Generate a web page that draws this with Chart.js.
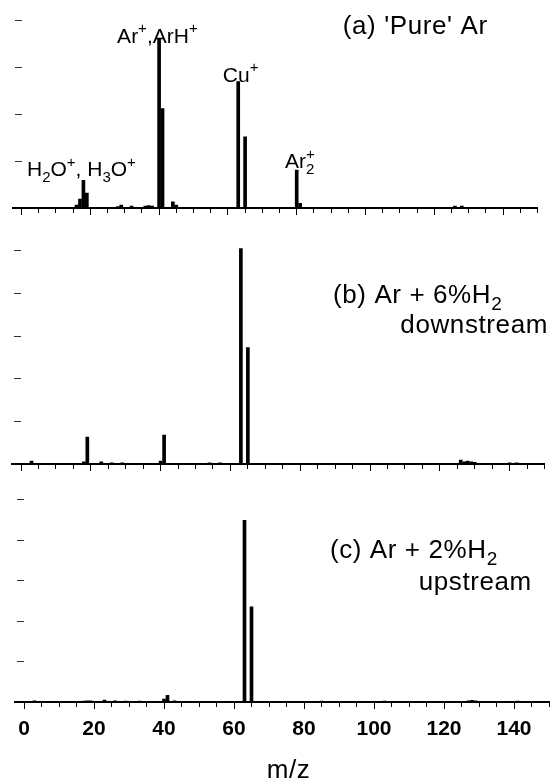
<!DOCTYPE html>
<html>
<head>
<meta charset="utf-8">
<title>Mass spectra: Ar and Ar + H2 discharges</title>
<script src="https://cdn.jsdelivr.net/npm/chart.js@4.4.1/dist/chart.umd.min.js"></script>
<style>
  html, body { margin: 0; padding: 0; background: #fff; }
  #wrap { position: relative; width: 552px; height: 783px; overflow: hidden; }
  canvas { position: absolute; left: 0; }
</style>
</head>
<body>
<div id="wrap">
  <canvas id="panelA" width="552" height="230" style="top:0px"></canvas>
  <canvas id="panelB" width="552" height="260" style="top:225px"></canvas>
  <canvas id="panelC" width="552" height="298" style="top:485px"></canvas>
</div>
<script>
// m/z positions and ion intensities (arbitrary units, one unit per y tick)

// (a) 'Pure' Ar
const massA   = [16, 17, 18, 19, 28, 29, 32, 36, 37, 38, 40, 41, 44, 45, 63, 65, 80, 81, 126, 128];
const countsA = [0.06, 0.19, 0.59, 0.32, 0.03, 0.06, 0.04, 0.04, 0.05, 0.04, 3.62, 2.12, 0.13, 0.06, 2.70, 1.52, 0.81, 0.10, 0.04, 0.04];

// (b) Ar + 6% H2, downstream
const massB   = [3, 18, 19, 23, 26, 29, 40, 41, 54, 57, 63, 65, 126, 127, 128, 129, 130, 140, 142];
const countsB = [0.07, 0.05, 0.63, 0.05, 0.03, 0.03, 0.07, 0.68, 0.03, 0.03, 5.05, 2.73, 0.09, 0.05, 0.07, 0.05, 0.04, 0.03, 0.03];

// (c) Ar + 2% H2, upstream
const massC   = [3, 17, 18, 19, 23, 26, 29, 33, 40, 41, 43, 63, 65, 85, 103, 127, 128, 129, 141];
const countsC = [0.03, 0.02, 0.03, 0.03, 0.05, 0.03, 0.02, 0.02, 0.07, 0.165, 0.03, 4.49, 2.35, 0.02, 0.02, 0.03, 0.04, 0.03, 0.02];

// x axis tick labels (bottom panel only)
const massTickLabels = ['0', '20', '40', '60', '80', '100', '120', '140'];

const FONT = '"Liberation Sans", Arial, Helvetica, sans-serif';

// Parse "H_2O^+" style markup into plain / subscript / superscript runs
function parseRich(str) {
  const out = [];
  for (let i = 0; i < str.length; i++) {
    const c = str[i];
    if ((c === '_' || c === '^') && i + 1 < str.length) {
      out.push({ t: str[i + 1], v: c === '_' ? 'sub' : 'sup' });
      i++;
    } else if (out.length && !out[out.length - 1].v) {
      out[out.length - 1].t += c;
    } else {
      out.push({ t: c, v: null });
    }
  }
  return out;
}

// Draws text labels anchored in data coordinates of the panel
const richText = {
  id: 'richText',
  afterDraw(chart, args, opts) {
    const { ctx } = chart;
    const xs = chart.scales.x, ys = chart.scales.y;
    (opts.items || []).forEach(item => {
      const size = item.size;
      const sp = item.spacing || 0;
      ctx.save();
      if ('letterSpacing' in ctx) ctx.letterSpacing = '0px';
      const runs = parseRich(item.text).map(r => {
        const s = r.v ? Math.round(size * 0.72) : size;
        ctx.font = `${s}px ${FONT}`;
        return { ...r, s, w: ctx.measureText(r.t).width + sp * r.t.length };
      });
      // a subscript followed by a superscript share one slot
      let total = 0;
      runs.forEach((r, i) => {
        const prev = runs[i - 1];
        if (r.v === 'sup' && prev && prev.v === 'sub') total += Math.max(0, r.w - prev.w);
        else total += r.w;
      });
      let px = xs.getPixelForValue(item.x);
      if (item.align === 'center') px -= total / 2;
      else if (item.align === 'right') px -= total;
      const py = ys.getPixelForValue(item.y);
      ctx.fillStyle = '#000';
      ctx.textBaseline = 'alphabetic';
      ctx.textAlign = 'left';
      if ('letterSpacing' in ctx) ctx.letterSpacing = sp + 'px';
      runs.forEach((r, i) => {
        const prev = runs[i - 1];
        let x0 = px;
        if (r.v === 'sup' && prev && prev.v === 'sub') x0 = px - prev.w;
        ctx.font = `${r.s}px ${FONT}`;
        const dy = r.v === 'sub' ? size * 0.28 : r.v === 'sup' ? -size * 0.45 : 0;
        ctx.fillText(r.t, x0, py + dy);
        px = Math.max(px, x0 + r.w);
      });
      ctx.restore();
    });
  }
};

function makePanel(id, mass, counts, cfg) {
  return new Chart(document.getElementById(id), {
    type: 'bar',
    data: {
      datasets: [{
        data: mass.map((m, i) => ({ x: m, y: counts[i] })),
        backgroundColor: '#000',
        borderWidth: 0,
        barThickness: 3
      }]
    },
    options: {
      responsive: false,
      animation: false,
      events: [],
      layout: { padding: cfg.padding },
      plugins: {
        legend: { display: false },
        tooltip: { enabled: false },
        title: { display: false },
        richText: { items: cfg.labels }
      },
      scales: {
        x: {
          type: 'linear',
          min: -2.5,
          max: 150,
          offset: false,
          position: { y: 0 },
          border: { display: true, color: '#000', width: 2 },
          grid: { offset: false, drawOnChartArea: false, drawTicks: true, tickLength: 4, color: '#000', lineWidth: 1 },
          ticks: {
            display: cfg.showLabels,
            includeBounds: false,
            stepSize: 5,
            autoSkip: false,
            maxRotation: 0,
            padding: 0,
            color: '#000',
            font: { family: FONT, size: 21, weight: 'bold', lineHeight: 2.25 },
            callback: v => (v % 20 === 0 ? massTickLabels[v / 20] : '')
          }
        },
        x2: {
          type: 'linear',
          axis: 'x',
          min: -2.5,
          max: 150,
          offset: false,
          position: { y: 0 },
          border: { display: false },
          grid: { offset: false, drawOnChartArea: false, drawTicks: true, tickLength: 7, color: '#000', lineWidth: 1 },
          ticks: { display: false, includeBounds: false, stepSize: 20, autoSkip: false }
        },
        y: {
          type: 'linear',
          min: 0,
          max: cfg.ymax,
          position: { x: 0 },
          border: { display: false },
          grid: { drawOnChartArea: false, drawTicks: true, tickLength: 7, color: '#333', lineWidth: 1 },
          ticks: { display: false, includeBounds: false, stepSize: 1 }
        }
      }
    },
    plugins: [richText]
  });
}

makePanel('panelA', massA, countsA, {
  ymax: 4.27,
  padding: { top: 8, bottom: 22, left: 12.9, right: 14.5 },
  showLabels: false,
  labels: [
    { text: "(a) 'Pure' Ar", x: 93.4, y: 3.71, align: 'left', size: 26, spacing: 0.6 },
    { text: 'Ar^+,ArH^+', x: 39.5, y: 3.53, align: 'center', size: 21 },
    { text: 'Cu^+', x: 63.7, y: 2.70, align: 'center', size: 21 },
    { text: 'H_2O^+, H_3O^+', x: 1.6, y: 0.68, align: 'left', size: 21 },
    { text: 'Ar_2^+', x: 76.6, y: 0.85, align: 'left', size: 21 }
  ]
});

makePanel('panelB', massB, countsB, {
  ymax: 5.298,
  padding: { top: 13, bottom: 21, left: 12.3, right: 7.5 },
  showLabels: false,
  labels: [
    { text: '(b) Ar + 6%H_2', x: 89.4, y: 3.77, align: 'left', size: 26, spacing: 0.6 },
    { text: 'downstream', x: 151, y: 3.07, align: 'right', size: 26, spacing: 0.6 }
  ]
});

makePanel('panelC', massC, countsC, {
  ymax: 5.2,
  padding: { top: 6.5, bottom: 81, left: 15.25, right: 3 },
  showLabels: true,
  labels: [
    { text: '(c) Ar + 2%H_2', x: 87.4, y: 3.56, align: 'left', size: 26, spacing: 0.6 },
    { text: 'upstream', x: 145.1, y: 2.77, align: 'right', size: 26, spacing: 0.6 },
    { text: 'm/z', x: 75.6, y: -1.88, align: 'center', size: 26, spacing: 0.6 }
  ]
});
</script>
</body>
</html>
